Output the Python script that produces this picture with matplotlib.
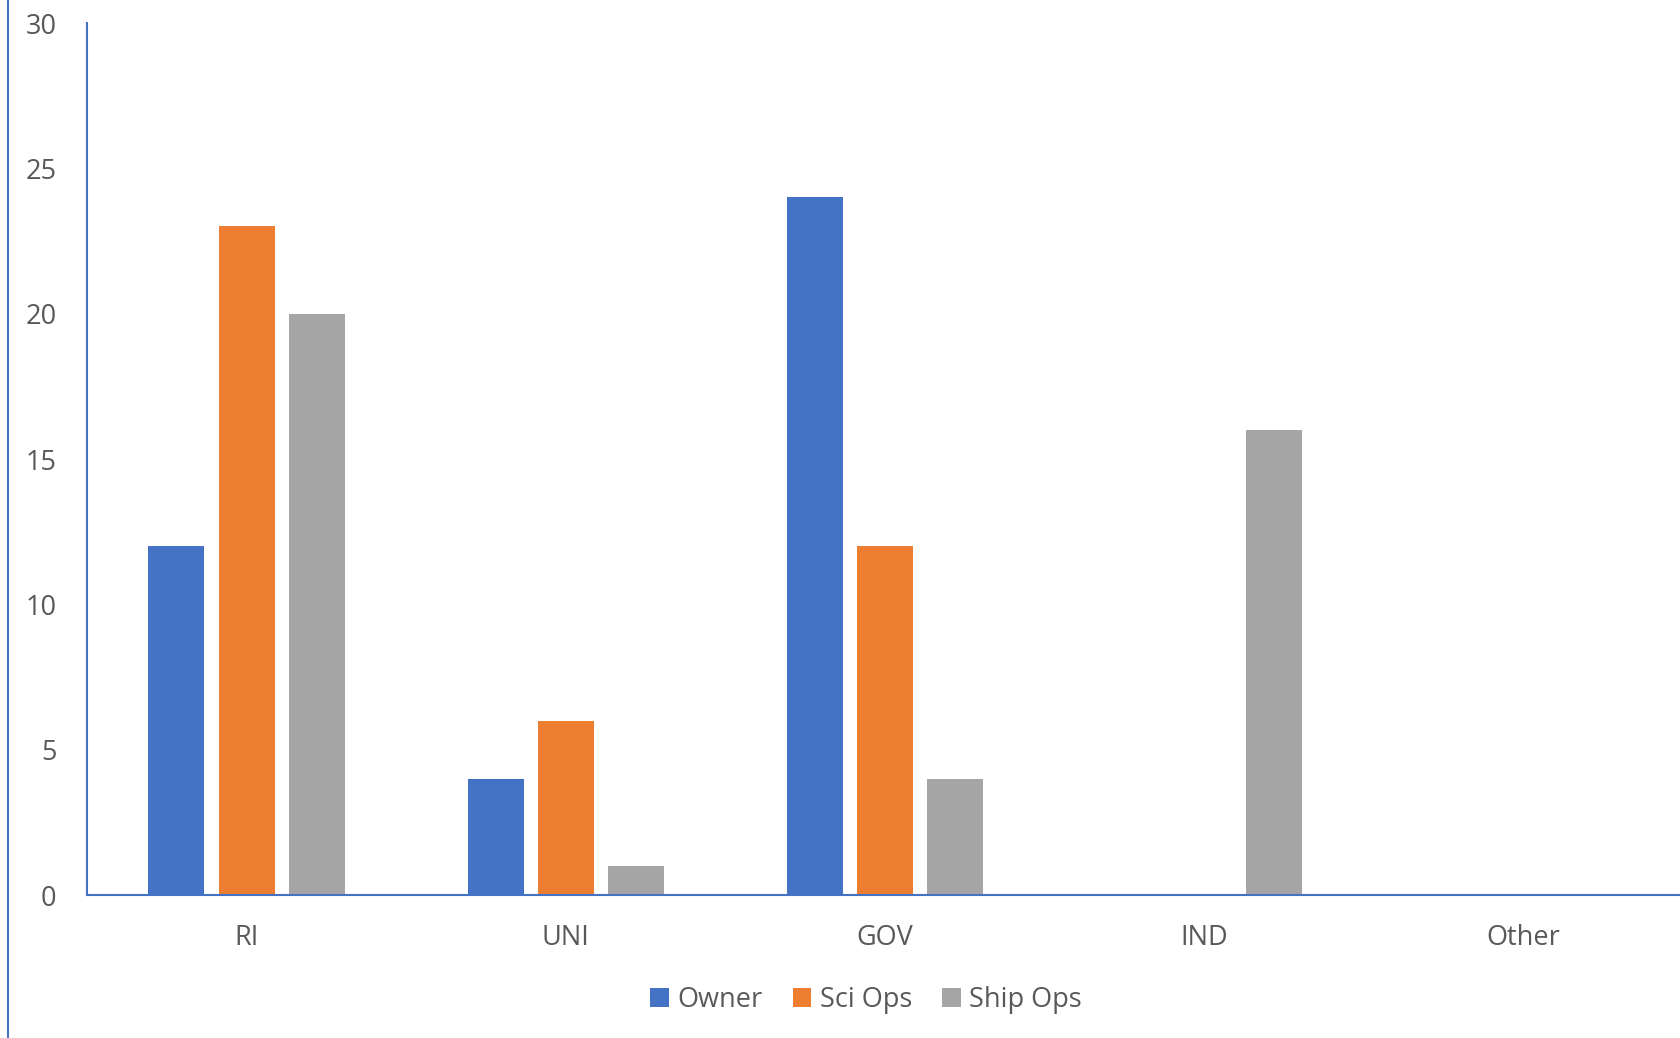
import numpy as np
import matplotlib.pyplot as plt
from matplotlib.lines import Line2D

categories = ["RI", "UNI", "GOV", "IND", "Other"]
owner = [12, 4, 24, 0, 0]
sci_ops = [23, 6, 12, 0, 0]
ship_ops = [20, 1, 4, 16, 0]

series = [("Owner", owner, "#4472C4"),
          ("Sci Ops", sci_ops, "#ED7D31"),
          ("Ship Ops", ship_ops, "#A5A5A5")]

plt.rcParams['font.family'] = ['Open Sans', 'DejaVu Sans']
text_color = "#595959"
axis_color = "#4472C4"

fig = plt.figure(figsize=(16.81, 10.38), dpi=100)
ax = fig.add_axes([87 / 1681, 1 - 895 / 1038, 1596 / 1681, (895 - 23) / 1038])

x = np.arange(len(categories))
width = 0.175
step = 0.22
for i, (name, vals, color) in enumerate(series):
    ax.bar(x + (i - 1) * step, vals, width, color=color, label=name)

ax.set_xlim(-0.5, len(categories) - 0.5)
ax.set_ylim(0, 30)
ax.set_yticks(range(0, 31, 5))
ax.set_xticks(x)
ax.set_xticklabels(categories)
ax.tick_params(axis='both', length=0, labelsize=19.5, colors=text_color)
ax.tick_params(axis='y', pad=22)
ax.tick_params(axis='x', pad=21)

for s in ["top", "right"]:
    ax.spines[s].set_visible(False)
for s in ["left", "bottom"]:
    ax.spines[s].set_color(axis_color)
    ax.spines[s].set_linewidth(1.5)

# chart frame line on the far left
fig.add_artist(Line2D([8 / 1681, 8 / 1681], [0, 1], color=axis_color, lw=1.5))

fig.legend(loc='center', bbox_to_anchor=(866 / 1681, 1 - 1000 / 1038), ncol=3,
           frameon=False, fontsize=19.5, handlelength=0.7, handleheight=0.7,
           handletextpad=0.3, columnspacing=1.1, labelcolor=text_color)

fig.savefig("out.png", dpi=100)
